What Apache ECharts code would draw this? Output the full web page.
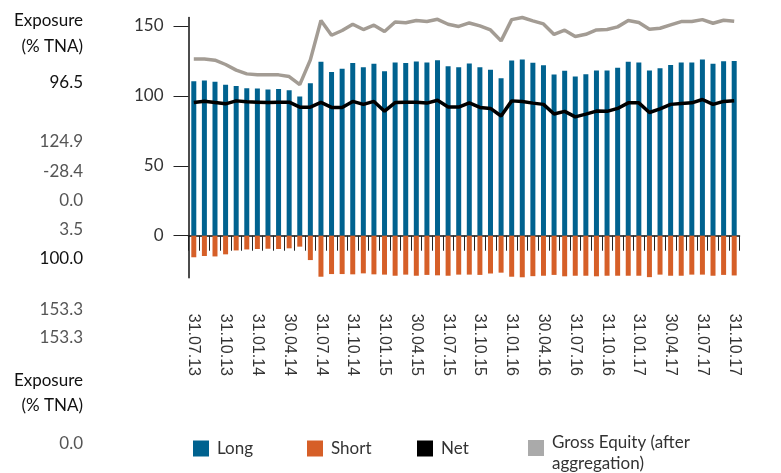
<!DOCTYPE html>
<html lang="en">
<head>
    <meta charset="UTF-8">
    <title>Exposure (% TNA)</title>
    <script src="https://cdn.jsdelivr.net/npm/echarts@6.0.0/dist/echarts.min.js"></script>
    <style>
        html, body { margin: 0; padding: 0; background: #fff; }
        #chart { width: 781px; height: 473px; }
    </style>
</head>
<body>
<div id="chart"></div>
<script>
    // month-end dates
    var dates = [
        '31.07.13', '31.08.13', '30.09.13', '31.10.13', '30.11.13', '31.12.13',
        '31.01.14', '28.02.14', '31.03.14', '30.04.14', '31.05.14', '30.06.14',
        '31.07.14', '31.08.14', '30.09.14', '31.10.14', '30.11.14', '31.12.14',
        '31.01.15', '28.02.15', '31.03.15', '30.04.15', '31.05.15', '30.06.15',
        '31.07.15', '31.08.15', '30.09.15', '31.10.15', '30.11.15', '31.12.15',
        '31.01.16', '29.02.16', '31.03.16', '30.04.16', '31.05.16', '30.06.16',
        '31.07.16', '31.08.16', '30.09.16', '31.10.16', '30.11.16', '31.12.16',
        '31.01.17', '28.02.17', '31.03.17', '30.04.17', '31.05.17', '30.06.17',
        '31.07.17', '31.08.17', '30.09.17', '31.10.17'
    ];

    var longVals = [
        110.5, 111, 110, 108, 107, 105.5, 105.3, 104.6, 104.8, 104, 99.6, 109,
        124.3, 117, 119.3, 123.4, 120.5, 123, 117.6, 123.8, 123.4, 124.5, 123.8, 125.5,
        121.2, 120.5, 123.1, 120.5, 118.6, 112.6, 125.3, 126, 123.6, 121.9, 115.3, 117.9,
        113.8, 115.5, 118.1, 118.1, 120, 124.3, 123.8, 118.1, 119.8, 122.1, 123.8, 123.8,
        126, 122.9, 124.8, 124.9
    ];
    var shortVals = [
        -15.4, -14.5, -14.8, -13.3, -10.5, -9.8, -9.5, -9.3, -9.5, -9, -7.8, -17.4,
        -29.3, -27.4, -27.4, -27.6, -26.9, -27.6, -27.8, -28.6, -27.8, -28.6, -28, -28.3,
        -28.6, -27.8, -27.8, -28, -27, -26.4, -29.3, -29.7, -28.9, -28.6, -28, -29,
        -28.6, -28.6, -29, -28.6, -28.6, -28.6, -28.6, -29.6, -27.8, -28.6, -28.6, -27.8,
        -27.8, -28.6, -28, -28.4
    ];
    var netVals = [
        95.3, 96.2, 95.3, 94.3, 96.4, 95.7, 95.5, 95.3, 95.5, 95.5, 91.9, 91.9,
        95.3, 91.7, 91.7, 96, 93.9, 96, 89, 95.2, 95.5, 95.5, 94.8, 96.8,
        92, 92, 95, 91.7, 91, 85.6, 96.4, 96, 94.8, 93.9, 87, 88.9,
        85, 86.9, 89.1, 88.9, 91, 95, 95, 88.1, 90.7, 93.9, 94.6, 95,
        97.4, 93.9, 96, 96.5
    ];
    var grossVals = [
        126.4, 126.4, 125.5, 122.4, 118.4, 115.7, 115, 115, 115, 113.8, 108, 125.7,
        153.8, 143.3, 146.7, 151.2, 147.4, 150.5, 146, 152.8, 152.2, 153.8, 153.2, 154.7,
        151.2, 149.6, 152.1, 150, 147.1, 139.3, 154.5, 156, 153.6, 151.4, 143.9, 146.9,
        142.4, 144, 147.1, 147.4, 149.3, 153.8, 152.4, 147.6, 148.3, 150.7, 153.1, 153.1,
        154.5, 151.9, 154, 153.3
    ];
    var yTicks = [0, 50, 100, 150];

    // stray texts on the left of the picture
    var sideTexts = ['Exposure', '(% TNA)', '96.5', '124.9', '-28.4', '0.0', '3.5', '100.0',
        '153.3', '153.3', 'Exposure', '(% TNA)', '0.0'];
    var sideY = [20, 46, 82, 141, 171, 200, 229, 258, 309, 337, 380, 405, 443];
    var sideDark = [true, true, true, false, false, false, false, true, false, false, true, true, false];

    var FONT = 'Lato';
    var GROSS = 'Gross Equity (after aggregation)';
    var chart = echarts.init(document.getElementById('chart'));

    var graphics = sideTexts.map(function (t, i) {
        return {
            type: 'text',
            right: 781 - 83,
            top: sideY[i] - 8,
            style: {
                text: t,
                font: '17px ' + FONT,
                fill: sideDark[i] ? '#111' : '#555',
                align: 'right'
            }
        };
    });

    function legendAt(name, left, color) {
        return {
            data: [{name: name, itemStyle: {color: color}}],
            left: left,
            top: name === GROSS ? 423 : 440,
            padding: 0,
            icon: 'rect',
            itemWidth: 16,
            itemHeight: 16,
            itemGap: 0,
            selectedMode: false,
            formatter: function (n) {
                return n === GROSS ? '{s| }\n{g|Gross Equity (after}\n{g|aggregation)}' : n;
            },
            textStyle: {
                fontFamily: FONT, fontSize: 17, color: '#333', padding: [0, 0, 0, 3],
                rich: {
                    s: {lineHeight: 10, fontSize: 8},
                    g: {lineHeight: 21, fontSize: 17, fontFamily: FONT, color: '#333'}
                }
            }
        };
    }

    chart.setOption({
        animation: false,
        graphic: graphics,
        grid: {left: 188.5, right: 41.5, top: 17.5, bottom: 195.3},
        legend: [
            legendAt('Long', 193, '#00628f'),
            legendAt('Short', 307, '#d65f28'),
            legendAt('Net', 417, '#000000'),
            legendAt(GROSS, 528, '#aaaaaa')
        ],
        xAxis: {
            type: 'category',
            data: dates,
            boundaryGap: true,
            axisLine: {onZero: true, lineStyle: {color: '#111', width: 1.5}},
            axisTick: {show: true, interval: 0, length: 15, lineStyle: {color: '#222', width: 1}},
            axisLabel: {
                interval: 2, rotate: -90, margin: 36,
                fontFamily: 'Liberation Sans', fontSize: 16, color: '#333'
            },
            splitLine: {show: false}
        },
        yAxis: {
            type: 'value',
            min: -30,
            max: 156,
            axisLine: {show: true, lineStyle: {color: '#111', width: 1.5}},
            axisTick: {show: true, customValues: yTicks, length: 15, lineStyle: {color: '#222', width: 1}},
            axisLabel: {customValues: yTicks, margin: 25, fontFamily: FONT, fontSize: 17, color: '#333'},
            splitLine: {show: false}
        },
        series: [
            {
                name: 'Long', type: 'bar', data: longVals, barWidth: 5, barGap: '-100%',
                itemStyle: {color: '#00628f'}
            },
            {
                name: 'Short', type: 'bar', data: shortVals, barWidth: 5,
                itemStyle: {color: '#d65f28'}
            },
            {
                name: 'Net', type: 'line', data: netVals, symbol: 'none', z: 5,
                lineStyle: {color: '#000', width: 3.5}, itemStyle: {color: '#000'}
            },
            {
                name: GROSS, type: 'line', data: grossVals, symbol: 'none', z: 4,
                clip: false,
                lineStyle: {color: '#a39c94', width: 3.5}, itemStyle: {color: '#a39c94'}
            }
        ]
    });
</script>
</body>
</html>
